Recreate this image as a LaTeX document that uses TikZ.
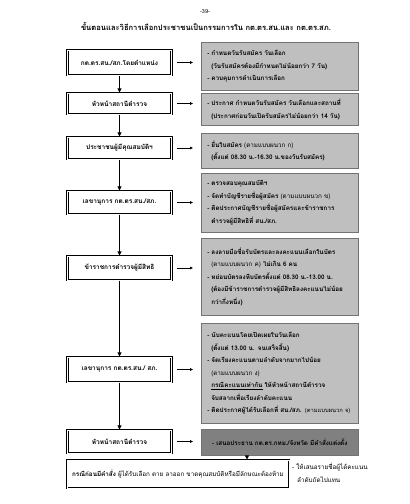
\documentclass[tikz,border=0pt]{standalone}
\usepackage{fontspec}
\setmainfont[Script=Thai]{Loma}
\usetikzlibrary{arrows.meta,shadows}
\begin{document}
\begin{tikzpicture}[x=1pt,y=-1pt,
  lbox/.style={draw=black, line width=1.1pt, double, double distance=0.7pt, fill=white,
    minimum width=104pt, inner sep=0pt, font=\fontsize{6.5}{9}\selectfont\bfseries},
  gbox/.style={draw=black!55, line width=0.5pt, fill=black!25, minimum width=157pt,
    text width=145pt, align=left, inner xsep=6pt, inner ysep=0pt,
    font=\fontsize{6.3}{12.5}\selectfont\bfseries,
    drop shadow={shadow xshift=0.8pt,shadow yshift=-0.8pt,fill=black!50,opacity=1}},
  dbox/.style={gbox, fill=black!50, align=center},
  vflow/.style={-{Triangle[length=4pt,width=4pt]}, line width=1pt},
  hflow/.style={-{Triangle[length=3pt,width=2.6pt]}, line width=0.4pt, shorten <=5pt, shorten >=8pt},
  note/.style={align=left, inner sep=0pt, font=\fontsize{6.3}{12.5}\selectfont},
  ttl/.style={inner sep=0pt, font=\fontsize{7.6}{10}\selectfont\bfseries},
  pg/.style={inner sep=0pt, font=\fontsize{5.5}{7}\selectfont},
]
\useasboundingbox (0,0) rectangle (410,504);
\fill[white] (0,0) rectangle (410,504);

\node[pg] (page) at (205,12) {-39-};
\node[ttl] (title) at (206,26) {ขั้นตอนและวิธีการเลือกประชาชนเป็นกรรมการใน กต.ตร.สน.และ กต.ตร.สภ.};

% left boxes
\node[lbox, minimum height=25pt] (b1) at (119.5,62.5) {กต.ตร.สน./สภ.โดยตำแหน่ง};
\node[lbox, minimum height=21pt] (b2) at (119.5,103.5) {หัวหน้าสถานีตำรวจ};
\node[lbox, minimum height=22pt] (b3) at (119.5,148) {ประชาชนผู้มีคุณสมบัติฯ};
\node[lbox, minimum height=23pt] (b4) at (119.5,202.5) {เลขานุการ กต.ตร.สน./สภ.};
\node[lbox, minimum height=24pt] (b5) at (119.5,268) {ข้าราชการตำรวจผู้มีสิทธิ};
\node[lbox, minimum height=25pt] (b6) at (119.5,369.5) {เลขานุการ กต.ตร.สน./ สภ.};
\node[lbox, minimum height=23pt] (b7) at (119.5,441.5) {หัวหน้าสถานีตำรวจ};
\node[lbox, minimum height=28pt, minimum width=222pt, font=\fontsize{6.3}{9}\selectfont] (b8) at (178,474)
  {\textbf{กรณีก่อนมีคำสั่ง} ผู้ได้รับเลือก ตาย ลาออก ขาดคุณสมบัติหรือมีลักษณะต้องห้าม};

% gray boxes
\node[gbox, anchor=north west, minimum height=48pt] (g1) at (201,42)
  {- กำหนดวันรับสมัคร วันเลือก\\
   \hspace*{4pt}(วันรับสมัครต้องมีกำหนดไม่น้อยกว่า 7 วัน)\\
   - ควบคุมการดำเนินการเลือก};
\node[gbox, anchor=north west, minimum height=32pt] (g2) at (201,93)
  {- ประกาศ กำหนดวันรับสมัคร วันเลือกและสถานที่\\
   \hspace*{4pt}(ประกาศก่อนวันเปิดรับสมัครไม่น้อยกว่า 14 วัน)};
\node[gbox, anchor=north west, minimum height=35pt] (g3) at (201,133)
  {- ยื่นใบสมัคร {\mdseries (ตามแบบผนวก ก)}\\
   \hspace*{4pt}(ตั้งแต่ 08.30 น.-16.30 น.ของวันรับสมัคร)};
\node[gbox, anchor=north west, minimum height=59pt] (g4) at (201,173)
  {- ตรวจสอบคุณสมบัติฯ\\
   - จัดทำบัญชีรายชื่อผู้สมัคร {\mdseries (ตามแบบผนวก ข)}\\
   - ติดประกาศบัญชีรายชื่อผู้สมัครและข้าราชการ\\
   \hspace*{4pt}ตำรวจผู้มีสิทธิที่ สน./สภ.};
\node[gbox, anchor=north west, minimum height=77pt] (g5) at (201,238)
  {- ลงลายมือชื่อรับบัตรและลงคะแนนเลือกในบัตร\\
   \hspace*{4pt}{\mdseries (ตามแบบผนวก ค)} ไม่เกิน 6 คน\\
   - หย่อนบัตรลงหีบบัตรตั้งแต่ 08.30 น.-13.00 น.\\
   \hspace*{4pt}(ต้องมีข้าราชการตำรวจผู้มีสิทธิลงคะแนนไม่น้อย\\
   \hspace*{4pt}กว่ากึ่งหนึ่ง)};
\node[gbox, anchor=north west, minimum height=100pt] (g6) at (201,323)
  {- นับคะแนนโดยเปิดเผยในวันเลือก\\
   \hspace*{4pt}(ตั้งแต่ 13.00 น. จนเสร็จสิ้น)\\
   - จัดเรียงคะแนนตามลำดับจากมากไปน้อย\\
   \hspace*{4pt}{\mdseries (ตามแบบผนวก ง)}\\
   \hspace*{4pt}\underline{กรณีคะแนนเท่ากัน} ให้หัวหน้าสถานีตำรวจ\\
   \hspace*{4pt}จับสลากเพื่อเรียงลำดับคะแนน\\
   \mbox{- ติดประกาศผู้ได้รับเลือกที่ สน./สภ. {\mdseries\fontsize{5.8}{12.5}\selectfont (ตามแบบผนวก จ)}}};
\node[dbox, anchor=north west, minimum height=26pt] (g7) at (201,429)
  {- เสนอประธาน กต.ตร.กทม./จังหวัด มีคำสั่งแต่งตั้ง};

\node[note, anchor=north west] (n8) at (292,463)
  {- ให้เสนอรายชื่อผู้ได้คะแนน\\ \hspace*{5pt}ลำดับถัดไปแทน};

% vertical flow
\draw[vflow] (b1) -- (b2);
\draw[vflow] (b2) -- (b3);
\draw[vflow] (b3) -- (b4);
\draw[vflow] (b4) -- (b5);
\draw[vflow] (b5) -- (b6);
\draw[vflow] (b6) -- (b7);
\coordinate (ax) at (247,0);
\draw[vflow, line width=0.8pt] (g7.south -| ax) -- (b8.north -| ax);

% side arrows
\draw[hflow] (b1.east) -- (b1.east -| g1.west);
\draw[hflow] (b2.east) -- (b2.east -| g2.west);
\draw[hflow] (b3.east) -- (b3.east -| g3.west);
\draw[hflow] (b4.east) -- (b4.east -| g4.west);
\draw[hflow] (b5.east) -- (b5.east -| g5.west);
\draw[hflow] (b6.east) -- (b6.east -| g6.west);
\draw[hflow] (b7.east) -- (b7.east -| g7.west);
\end{tikzpicture}
\end{document}
